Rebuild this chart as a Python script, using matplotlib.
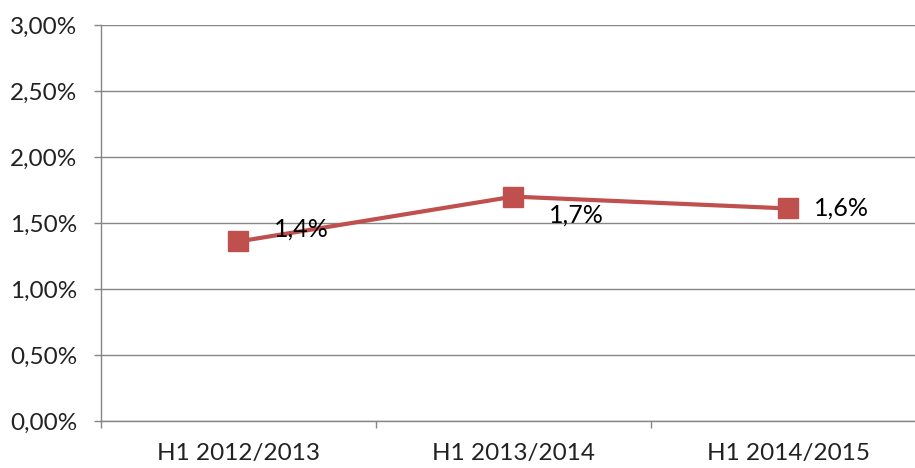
import matplotlib.pyplot as plt
from matplotlib.ticker import FixedLocator

plt.rcParams['font.family'] = ['Lato', 'DejaVu Sans']

categories = ['H1 2012/2013', 'H1 2013/2014', 'H1 2014/2015']
values = [1.36, 1.70, 1.61]
labels = ['1,4%', '1,7%', '1,6%']
y_ticks = [0.0, 0.5, 1.0, 1.5, 2.0, 2.5, 3.0]
y_tick_labels = ['0,00%', '0,50%', '1,00%', '1,50%', '2,00%', '2,50%', '3,00%']

grid_col = '#868686'
red = '#C0504D'

fig = plt.figure(figsize=(9.15, 4.68), dpi=100)
# plot area runs a little past the right edge, as in the reference
ax = fig.add_axes([101 / 915, 1 - 421 / 468, 825 / 915, 396 / 468])

x = list(range(len(categories)))
ax.plot(x, values, color=red, lw=3, marker='s', markersize=15,
        markerfacecolor=red, markeredgecolor=red, zorder=3)

# data labels, offsets in points
offsets = [(45, 9), (45, -13), (38, 0)]
for xi, v, lab, off in zip(x, values, labels, offsets):
    ax.annotate(lab, (xi, v), xytext=off, textcoords='offset points',
                ha='center', va='center', fontsize=18, color='black', zorder=4)

ax.set_xlim(-0.5, 2.5)
ax.set_ylim(0, 3.0)
ax.set_yticks(y_ticks)
ax.set_yticklabels(y_tick_labels, fontsize=17.5, color='#222222')
ax.set_xticks(x)
ax.set_xticklabels(categories, fontsize=17.5, color='#222222')
ax.xaxis.set_minor_locator(FixedLocator([-0.5, 0.5, 1.5, 2.5]))

ax.tick_params(axis='y', length=5, width=1, color=grid_col, pad=12)
ax.tick_params(axis='x', which='major', length=0, pad=16)
ax.tick_params(axis='x', which='minor', length=5, width=1, color=grid_col)

ax.grid(axis='y', color=grid_col, lw=1)
ax.set_axisbelow(True)
for side in ['top', 'right']:
    ax.spines[side].set_visible(False)
for side in ['left', 'bottom']:
    ax.spines[side].set_color(grid_col)
    ax.spines[side].set_linewidth(1)

plt.savefig('out.png', dpi=100)
